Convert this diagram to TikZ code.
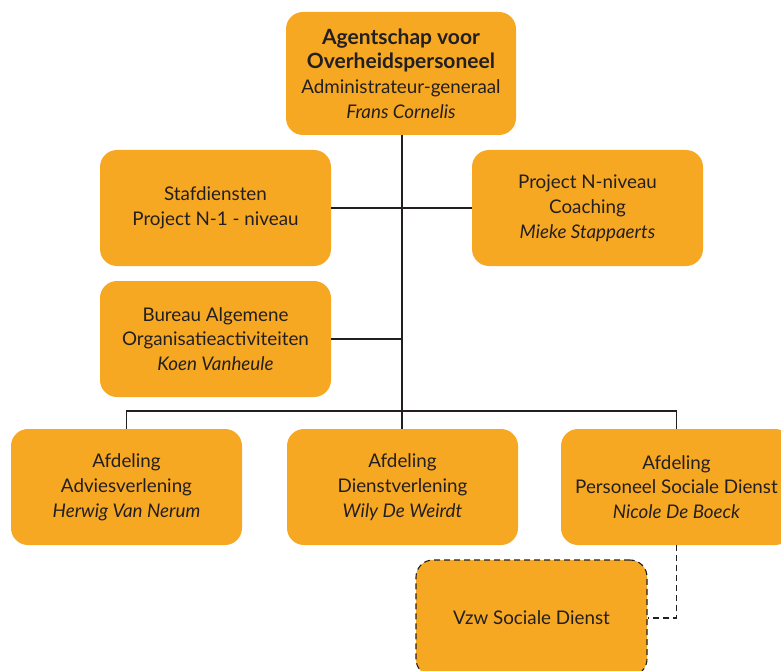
\documentclass[tikz,border=0pt]{standalone}
\usepackage{fontspec}
\setmainfont{Lato}
\definecolor{boxorange}{RGB}{247,168,35}
\definecolor{ink}{RGB}{35,31,32}
\newcommand{\headfont}{\fontsize{21}{24.8}\selectfont\bfseries}
\begin{document}
\begin{tikzpicture}[x=1pt,y=-1pt,
  box/.style={fill=boxorange, rounded corners=17pt, minimum width=231pt,
    minimum height=116pt, align=center, text=ink, inner sep=0pt,
    font=\fontsize{18.8}{24.8}\selectfont},
  conn/.style={draw=ink, line width=1.1pt},
  dashconn/.style={conn, dash pattern=on 6pt off 4pt}]
\useasboundingbox (0,0) rectangle (781,671);
\clip (0,0) rectangle (781,671);
\node[box, minimum width=230pt, minimum height=123pt] (top) at (401,73.5)
  {{\headfont Agentschap voor}\\{\headfont Overheidspersoneel}\\Administrateur-generaal\\\textit{Frans Cornelis}};
\node[box] (staf) at (215.5,208) {Stafdiensten\\Project N-1 - niveau};
\node[box] (proj) at (587.5,208) {Project N-niveau\\Coaching\\\textit{Mieke Stappaerts}};
\node[box] (bureau) at (215.5,339) {Bureau Algemene\\Organisatieactiviteiten\\\textit{Koen Vanheule}};
\node[box] (adv) at (126.5,487) {Afdeling\\Adviesverlening\\\textit{Herwig Van Nerum}};
\node[box] (dienst) at (402.5,487) {Afdeling\\Dienstverlening\\\textit{Wily De Weirdt}};
\node[box] (pers) at (676.5,487) {Afdeling\\Personeel Sociale Dienst\\\textit{Nicole De Boeck}};
\node[box, draw=ink, dash pattern=on 6pt off 4pt, line width=1.1pt] (vzw) at (531.5,618) {Vzw Sociale Dienst};
\coordinate (bus) at (402,411);
\draw[conn] (top.south -| bus) -- (bus);
\draw[conn] (staf.east) -- (proj.west);
\draw[conn] (bureau.east) -- (bureau.east -| bus);
\draw[conn] (adv.north) |- (bus) -| (pers.north);
\draw[conn] (bus) -- (dienst.north -| bus);
\draw[dashconn] (pers.south) |- (vzw.east);
\end{tikzpicture}
\end{document}
